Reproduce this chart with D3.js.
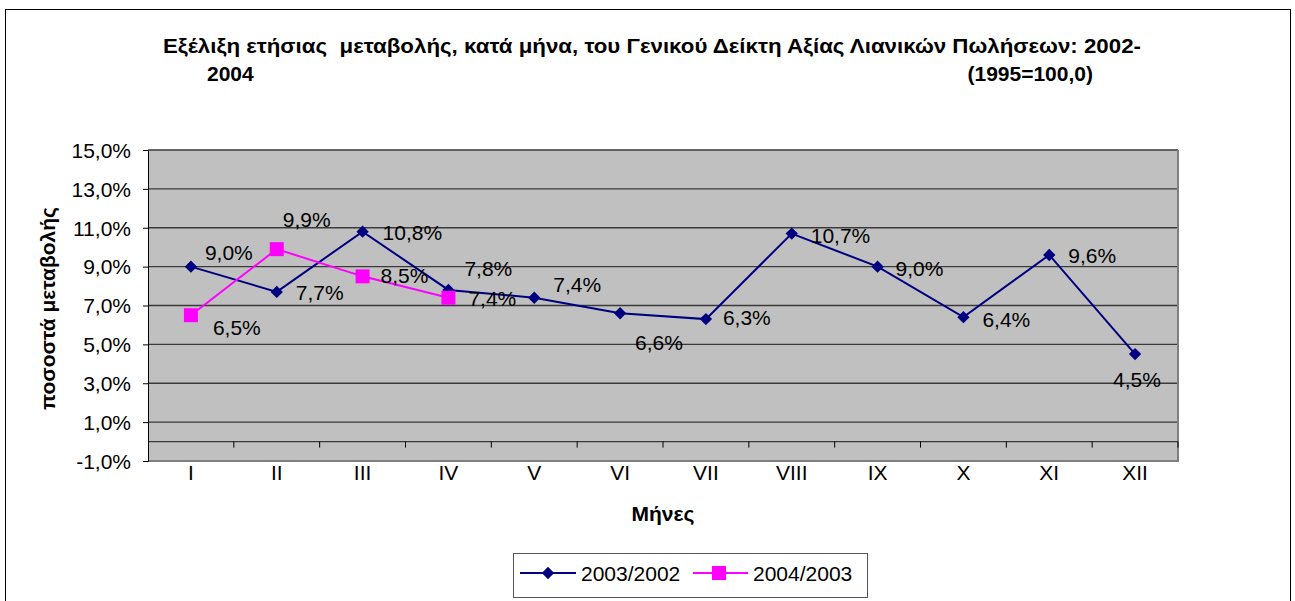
<!DOCTYPE html>
<html><head><meta charset="utf-8">
<script src="https://cdn.jsdelivr.net/npm/d3@7"></script>
<style>body{margin:0;background:#fff}svg{display:block;font-family:Arial,"Liberation Sans",sans-serif}</style>
</head><body><svg id="c" width="1295" height="601"></svg>
<script>
const months = ["I","II","III","IV","V","VI","VII","VIII","IX","X","XI","XII"];
const s2003 = [9.0,7.7,10.8,7.8,7.4,6.6,6.3,10.7,9.0,6.4,9.6,4.5];
const s2004 = [6.5,9.9,8.5,7.4];
const seriesNames = ["2003/2002","2004/2003"];
const yTicks = [-1,1,3,5,7,9,11,13,15];

// label placement offsets (styling, relative to point)
const off2003 = [[14,-7],[19,8],[20,8],[16,-14],[19,-6],[15,37],[17,6],[19,9],[18,9],[19,10],[19,8],[-22,33]];
const off2004 = [[22,20],[6,-22],[18,7],[20,8]];

const svg = d3.select("#c");
const L=148,R=1178,T=150,B=461;
const FS=21;
const x = d3.scaleBand().domain(months).range([L,R]).padding(0);
const y = d3.scaleLinear().domain([-1,15]).range([B,T]);
const fmt = v => v.toFixed(1).replace(".",",")+"%";

// outer border
svg.append("rect").attr("x",5.5).attr("y",9.5).attr("width",1285).attr("height",620)
  .attr("fill","#fff").attr("stroke","#000").attr("stroke-width",1);

// title
const tt = svg.append("g").attr("font-weight","bold").attr("font-size",21).attr("fill","#000");
tt.append("text").attr("x",163).attr("y",53).attr("textLength",978).attr("lengthAdjust","spacingAndGlyphs")
  .attr("xml:space","preserve")
  .text("Εξέλιξη ετήσιας  μεταβολής, κατά μήνα, του Γενικού Δείκτη Αξίας Λιανικών Πωλήσεων: 2002-");
tt.append("text").attr("x",207).attr("y",81).text("2004");
tt.append("text").attr("x",1093).attr("y",81).attr("text-anchor","end").text("(1995=100,0)");

// plot area
svg.append("rect").attr("x",L).attr("y",T).attr("width",R-L).attr("height",B-T).attr("fill","#C0C0C0");
svg.append("g").selectAll("line").data(yTicks.filter(d=>d>-1)).join("line")
  .attr("x1",L).attr("x2",R).attr("y1",d=>y(d)).attr("y2",d=>y(d))
  .attr("stroke","#3a3a3a").attr("stroke-width",1.3);
// plot border right/bottom
svg.append("path").attr("d",`M${R},${T}V${B}H${L}`).attr("fill","none").attr("stroke","#808080").attr("stroke-width",2);

// x axis at zero
const xAxis = d3.axisBottom(x).tickSize(0).tickFormat("");
const gx = svg.append("g").attr("transform",`translate(0,${y(0)})`).call(xAxis);
gx.select(".domain").attr("stroke","#3a3a3a").attr("stroke-width",1.3).attr("d",`M${L},0H${R}`);
gx.selectAll(".tk").data(months).join("line").attr("class","tk")
  .attr("x1",(d,i)=>L+(i+1)*x.bandwidth()).attr("x2",(d,i)=>L+(i+1)*x.bandwidth())
  .attr("y1",0).attr("y2",6).attr("stroke","#000");
// category labels
svg.append("g").selectAll("text").data(months).join("text")
  .attr("x",d=>x(d)+x.bandwidth()/2).attr("y",480).attr("text-anchor","middle")
  .attr("font-size",FS).attr("fill","#000").text(d=>d);

// y axis
const yAxis = d3.axisLeft(y).tickValues(yTicks).tickSize(5).tickFormat(fmt);
const gy = svg.append("g").attr("transform",`translate(${L},0)`).call(yAxis);
gy.select(".domain").attr("stroke","#000");
gy.selectAll(".tick line").attr("stroke","#000");
gy.selectAll(".tick text").attr("font-size",FS).attr("font-family","Arial,'Liberation Sans',sans-serif")
  .attr("fill","#000").attr("x",-17).attr("dy","0.35em");

// axis titles
svg.append("text").attr("transform",`translate(55,${(T+B)/2+3}) rotate(-90)`).attr("text-anchor","middle")
  .attr("font-weight","bold").attr("font-size",21).text("ποσοστά μεταβολής");
svg.append("text").attr("x",663).attr("y",521).attr("text-anchor","middle")
  .attr("font-weight","bold").attr("font-size",21).text("Μήνες");

const cx = (d,i)=>x(months[i])+x.bandwidth()/2;
const line = d3.line().x((d,i)=>cx(d,i)).y(d=>y(d));

// series lines
svg.append("path").datum(s2003).attr("d",line).attr("fill","none").attr("stroke","#000080").attr("stroke-width",2);
svg.append("path").datum(s2004).attr("d",line).attr("fill","none").attr("stroke","#FF00FF").attr("stroke-width",2);

const diamond = d3.symbol().type(d3.symbolSquare).size(76);
svg.append("g").selectAll("path").data(s2003).join("path")
  .attr("d",diamond).attr("fill","#000080")
  .attr("transform",(d,i)=>`translate(${cx(d,i)},${y(d)}) rotate(45)`);
svg.append("g").selectAll("rect").data(s2004).join("rect")
  .attr("x",(d,i)=>cx(d,i)-7).attr("y",d=>y(d)-7).attr("width",14).attr("height",14).attr("fill","#FF00FF");

// data labels
svg.append("g").selectAll("text").data(s2003).join("text")
  .attr("x",(d,i)=>cx(d,i)+off2003[i][0]).attr("y",(d,i)=>y(d)+off2003[i][1])
  .attr("font-size",FS).attr("fill","#000").text(fmt);
svg.append("g").selectAll("text").data(s2004).join("text")
  .attr("x",(d,i)=>cx(d,i)+off2004[i][0]).attr("y",(d,i)=>y(d)+off2004[i][1])
  .attr("font-size",FS).attr("fill","#000").text(fmt);

// legend
const lg = svg.append("g");
lg.append("rect").attr("x",513.5).attr("y",553.5).attr("width",354).attr("height",44)
  .attr("fill","#fff").attr("stroke","#555").attr("stroke-width",1);
lg.append("line").attr("x1",520).attr("x2",576).attr("y1",573).attr("y2",573).attr("stroke","#000080").attr("stroke-width",2);
lg.append("path").attr("d",diamond).attr("fill","#000080").attr("transform","translate(548,573) rotate(45)");
lg.append("text").attr("x",581).attr("y",581).attr("font-size",FS).text(seriesNames[0]);
lg.append("line").attr("x1",693).attr("x2",748).attr("y1",573).attr("y2",573).attr("stroke","#FF00FF").attr("stroke-width",2);
lg.append("rect").attr("x",712).attr("y",566).attr("width",14).attr("height",14).attr("fill","#FF00FF");
lg.append("text").attr("x",753).attr("y",581).attr("font-size",FS).text(seriesNames[1]);
</script></body></html>
